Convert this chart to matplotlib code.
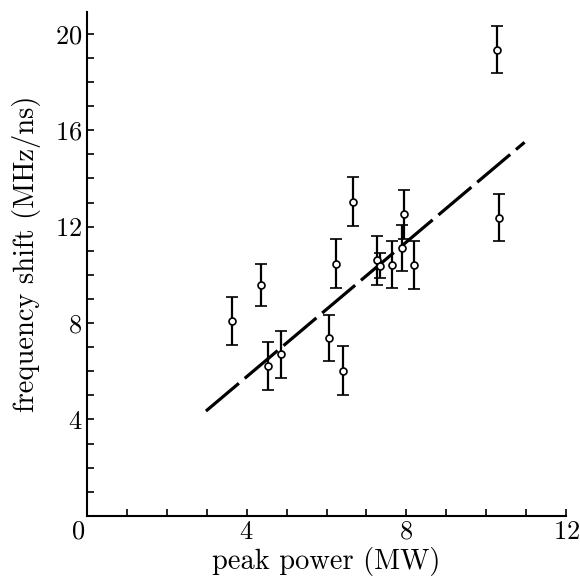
import matplotlib
matplotlib.use('Agg')
import matplotlib.pyplot as plt
import matplotlib.transforms as mtransforms
from matplotlib.ticker import MultipleLocator, FixedLocator

plt.rcParams['font.family'] = ['cmr10', 'DejaVu Serif']
plt.rcParams['axes.formatter.use_mathtext'] = True
plt.rcParams['lines.scale_dashes'] = False

power = [3.63, 4.36, 4.54, 4.85, 6.07, 6.24, 6.41, 6.66, 7.27, 7.34, 7.64, 7.88, 7.93, 8.20, 10.27, 10.32]
shift = [8.08, 9.58, 6.22, 6.70, 7.39, 10.47, 6.03, 13.04, 10.60, 10.38, 10.43, 11.11, 12.51, 10.42, 19.35, 12.38]
shift_err = [1.0, 0.87, 1.0, 0.97, 0.95, 1.02, 1.0, 1.0, 1.0, 0.52, 0.99, 0.96, 1.02, 0.99, 0.96, 0.97]

# dashed fit line end points
fit_x = [2.98, 10.96]
fit_y = [4.35, 15.5]

x_ticks = [0, 4, 8, 12]
y_ticks = [4, 8, 12, 16, 20]

fig = plt.figure(figsize=(5.8, 5.79), dpi=100)
ax = fig.add_axes([0.15, 0.109, 0.826, 0.870])

ax.plot(fit_x, fit_y, color='black', lw=2.3, dashes=(31, 5.5), solid_capstyle='butt')
ax.errorbar(power, shift, yerr=shift_err, fmt='o', color='black', ms=5,
            mfc='white', mec='black', mew=1.2, elinewidth=1.6, capsize=4.3, capthick=1.6)

ax.set_xlim(0, 12)
ax.set_ylim(0, 20.9)
ax.xaxis.set_major_locator(FixedLocator(x_ticks))
ax.xaxis.set_minor_locator(MultipleLocator(1))
ax.yaxis.set_major_locator(FixedLocator(y_ticks))
ax.yaxis.set_minor_locator(MultipleLocator(1))
ax.tick_params(which='both', direction='in', length=5, width=1.2, labelsize=19)
ax.tick_params(axis='x', pad=3)
ax.spines['top'].set_visible(False)
ax.spines['right'].set_visible(False)
for s in ['left', 'bottom']:
    ax.spines[s].set_linewidth(1.5)

ax.set_xlabel('peak power (MW)', fontsize=20.5)
ax.set_ylabel('frequency shift (MHz/ns)', fontsize=20.5)
ax.xaxis.set_label_coords(0.5, -0.062)
ax.yaxis.set_label_coords(-0.097, 0.52)

fig.canvas.draw()
# the zero label sits a bit left of the corner
lbl0 = ax.get_xticklabels()[0]
lbl0.set_transform(lbl0.get_transform() + mtransforms.ScaledTranslation(-9 / 100, 0, fig.dpi_scale_trans))

fig.savefig('out.png', dpi=100)
